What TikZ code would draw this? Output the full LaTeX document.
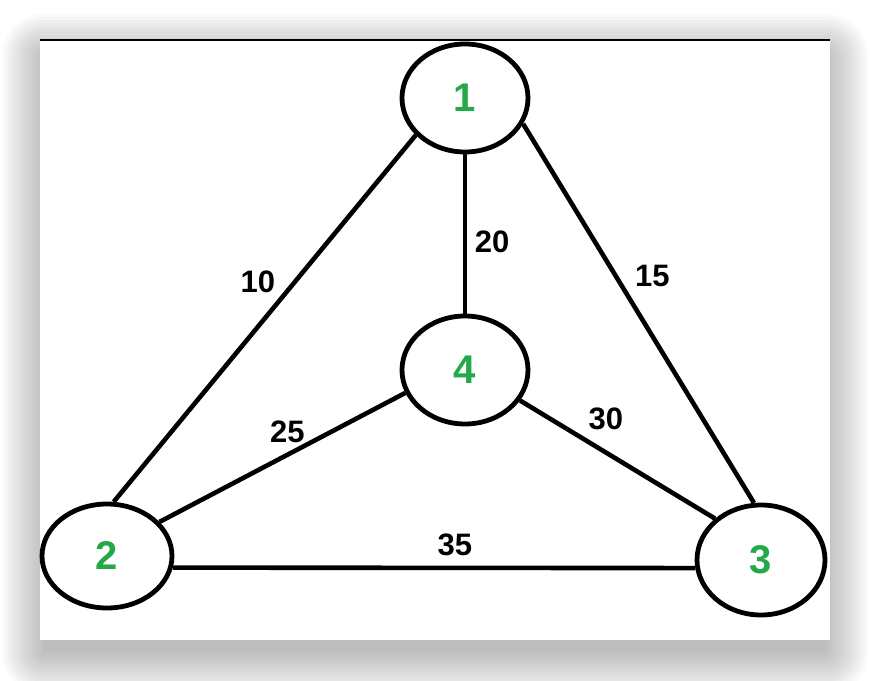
\documentclass[tikz,border=0pt]{standalone}
\usepackage{fontspec}
\setmainfont{Liberation Sans}
\usetikzlibrary{shapes.geometric}
\definecolor{nodegreen}{RGB}{36,168,72}

\begin{document}
\begin{tikzpicture}[x=1pt, y=-1pt]
    % Define styles
    \tikzstyle{vertex} = [ellipse, draw, line width=4.8pt, fill=white, inner sep=0pt,
        minimum width=126pt, minimum height=108pt, text=nodegreen,
        font=\fontsize{40}{40}\selectfont\bfseries]
    \tikzstyle{line} = [draw, line width=4.6pt]
    \tikzstyle{weight} = [font=\fontsize{31}{31}\selectfont\bfseries]

    \useasboundingbox (0,0) rectangle (870,680);
    \clip (0,0) rectangle (870,680);

    % Card with soft shadow
    \foreach \r in {0,3,...,42}
        \fill[black, opacity=0.02, rounded corners=\r pt]
            ({44-\r},{56-\r}) rectangle ({826+\r},{652+\r});
    \fill[white] (40,40) rectangle (830,640);
    \draw[line width=2.5pt] (40,40) -- (830,40);

    % Place nodes
    \node [vertex] (n1) at (465,98) {1};
    \node [vertex, below of=n1, node distance=272pt] (n4) {4};
    \node [vertex, minimum width=130pt, minimum height=104pt] (n2) at (107,556) {2};
    \node [vertex, minimum width=128pt, minimum height=110pt] (n3) at (761,560) {3};

    % Draw edges
    \path [line] (n1.217) -- node[weight, pos=0.4, xshift=-37pt] {10} (n2.83);
    \path [line] (n1.south) -- node[weight, pos=0.55, xshift=27pt] {20} (n4.north);
    \path [line] (n1.336) -- node[weight, pos=0.4, xshift=37pt] {15} (n3.97);
    \path [line] (n4.201) -- node[weight, pos=0.48, yshift=23pt] {25} (n2.33);
    \path [line] (n4.331) -- node[weight, pos=0.44, yshift=34pt] {30} (n3.138);
    \path [line] (n2.350) -- node[weight, pos=0.54, yshift=23pt] {35} (n3.187);

\end{tikzpicture}
\end{document}
